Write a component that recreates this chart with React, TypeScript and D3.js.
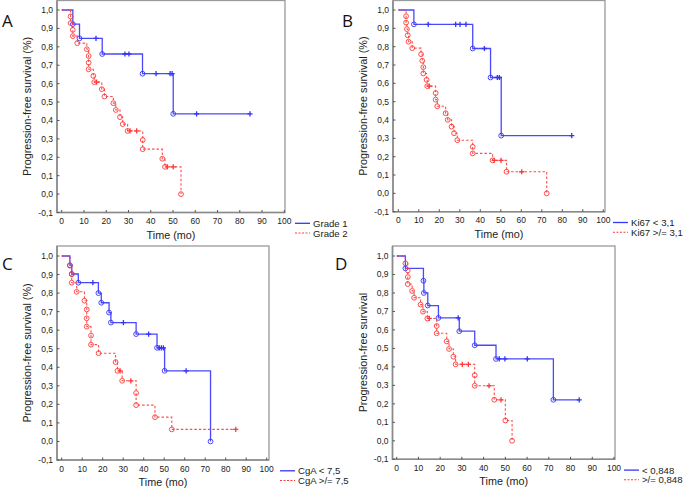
import React, { useEffect, useRef } from 'react';
import * as d3 from 'd3';

const xTicks = [0, 10, 20, 30, 40, 50, 60, 70, 80, 90, 100];
const yTicks = [-0.1, 0, 0.1, 0.2, 0.3, 0.4, 0.5, 0.6, 0.7, 0.8, 0.9, 1.0];

// A: grade
const gradeOneTimes = [5, 8, 18.2, 36.3, 50.1];
const gradeOneSurv = [0.923, 0.846, 0.761, 0.654, 0.436];
const gradeOneCensored = [15.4, 28.4, 30.2, 42.4, 48.7, 49.6, 60.6, 84.6];
const gradeTwoTimes = [4, 4, 5, 5, 7, 11.3, 12.1, 12.1, 12.1, 14.2, 14.6, 18, 19.2, 23.2, 24.3, 26.2, 27.4, 29.6, 36.4, 36.4, 45.2, 46.4, 53.6];
const gradeTwoSurv = [0.965, 0.929, 0.892, 0.858, 0.82, 0.787, 0.75, 0.714, 0.678, 0.642, 0.608, 0.57, 0.53, 0.494, 0.457, 0.418, 0.38, 0.343, 0.294, 0.244, 0.192, 0.148, 0];
const gradeTwoCensored = [15.7, 30.7, 33.7, 47.5, 50.1];

// B: Ki67
const kiLowTimes = [7.6, 36.3, 45, 50.2];
const kiLowSurv = [0.922, 0.79, 0.632, 0.315];
const kiLowCensored = [14.6, 28, 30.1, 33, 42, 48.3, 49.3, 84.6];
const kiHighTimes = [3.8, 3.8, 4.2, 4.6, 5, 6.8, 11.1, 11.7, 12.2, 12.2, 13.8, 14.1, 18.2, 18.2, 19, 23.1, 24.1, 26, 27.2, 28.8, 36.3, 36.3, 46, 52.8, 72.4];
const kiHighSurv = [0.966, 0.931, 0.896, 0.862, 0.827, 0.792, 0.759, 0.723, 0.688, 0.654, 0.619, 0.585, 0.547, 0.511, 0.475, 0.437, 0.401, 0.364, 0.328, 0.29, 0.254, 0.218, 0.18, 0.118, 0];
const kiHighCensored = [15.1, 46.8, 50.1, 60.2];

// C: CgA
const cgaLowTimes = [4, 4.9, 8.1, 17.9, 19.3, 23.1, 24, 36.3, 46.5, 50.2, 72.6];
const cgaLowSurv = [0.95, 0.903, 0.856, 0.8, 0.748, 0.695, 0.641, 0.579, 0.505, 0.381, 0];
const cgaLowCensored = [15.2, 30.1, 42.4, 47.6, 48.6, 49.6, 60.7];
const cgaHighTimes = [4, 4.9, 4.9, 7.3, 11.1, 12.2, 12.2, 12.2, 14.3, 14.3, 18, 26.3, 27.2, 29.5, 36.3, 36.3, 45.5, 53.7];
const cgaHighSurv = [0.948, 0.902, 0.856, 0.807, 0.759, 0.712, 0.664, 0.619, 0.571, 0.522, 0.476, 0.428, 0.381, 0.327, 0.261, 0.196, 0.131, 0.065];
const cgaHighCensored = [28.5, 33.7, 84.9];

// D: cut-off 0,848
const cutLowTimes = [4, 12.3, 12.5, 14.3, 19.2, 28.8, 35.9, 45.7, 72.1];
const cutLowSurv = [0.933, 0.866, 0.8, 0.732, 0.665, 0.593, 0.517, 0.443, 0.222];
const cutLowCensored = [28.3, 47.2, 49.8, 60.1, 84];
const cutHighTimes = [4, 5.1, 5.1, 5.1, 7.1, 8, 11, 12.1, 14.1, 18.4, 18.4, 23, 24.1, 26.1, 27.1, 35.9, 35.9, 44.9, 50, 53.1];
const cutHighSurv = [0.96, 0.922, 0.886, 0.848, 0.811, 0.774, 0.737, 0.699, 0.662, 0.621, 0.582, 0.538, 0.497, 0.455, 0.414, 0.355, 0.298, 0.222, 0.11, 0];
const cutHighCensored = [15, 30.2, 33, 42.5, 48];

const BLUE = '#3535f8';
const RED = '#ff3a3a';

const panels = [
  {
    letter: 'A', letterX: 2, letterY: 27,
    left: 57, right: 285, top: 0.5, bottom: 212.5, x0: 61.7, x100: 284.3, yTop: 10,
    yTitle: 'Progression-free survival (%)', legendX: 295,
    labels: ['Grade 1', 'Grade 2'],
    blue: [gradeOneTimes, gradeOneSurv, gradeOneCensored],
    red: [gradeTwoTimes, gradeTwoSurv, gradeTwoCensored],
  },
  {
    letter: 'B', letterX: 342, letterY: 27,
    left: 393, right: 605, top: 0.5, bottom: 211.7, x0: 398.3, x100: 603.3, yTop: 10,
    yTitle: 'Progression-free survival (%)', legendX: 613,
    labels: ['Ki67 < 3,1', 'Ki67 >/= 3,1'],
    blue: [kiLowTimes, kiLowSurv, kiLowCensored],
    red: [kiHighTimes, kiHighSurv, kiHighCensored],
  },
  {
    letter: 'C', letterX: 2, letterY: 270,
    left: 57, right: 269, top: 246, bottom: 460, x0: 61.7, x100: 266.7, yTop: 256,
    yTitle: 'Progression-free survival (%)', legendX: 280,
    labels: ['CgA < 7,5', 'CgA >/= 7,5'],
    blue: [cgaLowTimes, cgaLowSurv, cgaLowCensored],
    red: [cgaHighTimes, cgaHighSurv, cgaHighCensored],
  },
  {
    letter: 'D', letterX: 335, letterY: 270,
    left: 392.5, right: 615, top: 246, bottom: 459.3, x0: 396.7, x100: 614, yTop: 256,
    yTitle: 'Progression-free survival', legendX: 624,
    labels: ['< 0,848', '>/= 0,848'],
    blue: [cutLowTimes, cutLowSurv, cutLowCensored],
    red: [cutHighTimes, cutHighSurv, cutHighCensored],
  },
];

function survAt(times, surv, t) {
  let s = 1;
  times.forEach((tt, i) => { if (tt <= t) s = surv[i]; });
  return s;
}

function stepPoints(times, surv, censored) {
  const pts = [[0, 1]];
  let prev = 1;
  times.forEach((t, i) => {
    pts.push([t, prev]);
    pts.push([t, surv[i]]);
    prev = surv[i];
  });
  const lastEvent = times[times.length - 1];
  const lastT = Math.max(lastEvent, ...censored);
  if (lastT > lastEvent) pts.push([lastT, prev]);
  return pts;
}

const App = () => {
  const ref = useRef(null);

  useEffect(() => {
    const svg = d3.select(ref.current);
    svg.selectAll('*').remove();
    const font = 'Liberation Sans, Arial, sans-serif';
    const fmt = (v) => d3.format('.1f')(v).replace('.', ',').replace('−', '-');

    panels.forEach((p) => {
      const g = svg.append('g');
      const x = d3.scaleLinear().domain([0, 100]).range([p.x0, p.x100]);
      const y = d3.scaleLinear().domain([-0.1, 1.0]).range([p.bottom, p.yTop]);

      // frame
      g.append('rect')
        .attr('x', p.left).attr('y', p.top)
        .attr('width', p.right - p.left).attr('height', p.bottom - p.top)
        .attr('fill', 'white').attr('stroke', '#9a9a9a').attr('stroke-width', 1.3);
      g.append('path')
        .attr('d', `M${p.left},${p.top}V${p.bottom}H${p.right}`)
        .attr('fill', 'none').attr('stroke', '#8a8a8a').attr('stroke-width', 1.6);

      // ticks
      xTicks.forEach((t) => {
        g.append('line')
          .attr('x1', x(t)).attr('x2', x(t))
          .attr('y1', p.bottom).attr('y2', p.bottom - 2.5)
          .attr('stroke', '#555').attr('stroke-width', 1);
        g.append('text')
          .attr('x', x(t)).attr('y', p.bottom + 11.5)
          .attr('text-anchor', 'middle')
          .style('font-family', font).style('font-size', '8.5px').style('fill', '#222')
          .text(t);
      });
      yTicks.forEach((t) => {
        g.append('line')
          .attr('x1', p.left).attr('x2', p.left + 2.5)
          .attr('y1', y(t)).attr('y2', y(t))
          .attr('stroke', '#555').attr('stroke-width', 1);
        g.append('text')
          .attr('x', p.left - 4).attr('y', y(t) + 3)
          .attr('text-anchor', 'end')
          .style('font-family', font).style('font-size', '8.5px').style('fill', '#222')
          .text(fmt(t));
      });

      // titles
      g.append('text')
        .attr('x', (p.left + p.right) / 2).attr('y', p.bottom + 26)
        .attr('text-anchor', 'middle')
        .style('font-family', font).style('font-size', '10.8px').style('fill', '#222')
        .text('Time (mo)');
      const cy = (p.top + p.bottom) / 2;
      g.append('text')
        .attr('transform', `translate(${p.left - 26},${cy}) rotate(-90)`)
        .attr('text-anchor', 'middle')
        .style('font-family', font).style('font-size', '10.8px').style('fill', '#222')
        .text(p.yTitle);
      g.append('text')
        .attr('x', p.letterX).attr('y', p.letterY)
        .style('font-family', 'Open Sans, sans-serif').style('font-size', '17px').style('fill', '#111')
        .text(p.letter);

      const line = d3.line().x((d) => x(d[0])).y((d) => y(d[1]));

      const drawSeries = (series, color, dash, width) => {
        const [times, surv, censored] = series;
        g.append('path')
          .attr('d', line(stepPoints(times, surv, censored)))
          .attr('fill', 'none').attr('stroke', color)
          .attr('stroke-width', width)
          .attr('stroke-dasharray', dash)
          .attr('opacity', 0.9);
        times.forEach((t, i) => {
          g.append('circle')
            .attr('cx', x(t)).attr('cy', y(surv[i])).attr('r', 2.4)
            .attr('fill', 'none').attr('stroke', color).attr('stroke-width', 0.9);
        });
        censored.forEach((t) => {
          const cx = x(t);
          const cyy = y(survAt(times, surv, t));
          g.append('path')
            .attr('d', `M${cx - 2.6},${cyy}H${cx + 2.6}M${cx},${cyy - 2.6}V${cyy + 2.6}`)
            .attr('stroke', color).attr('stroke-width', 1.3);
        });
      };

      drawSeries(p.blue, BLUE, null, 1.3);
      drawSeries(p.red, RED, '2.5,2', 1.1);

      // legend
      const ly1 = p.bottom + 10.8;
      const ly2 = p.bottom + 20.5;
      g.append('line')
        .attr('x1', p.legendX).attr('x2', p.legendX + 15)
        .attr('y1', ly1).attr('y2', ly1)
        .attr('stroke', BLUE).attr('stroke-width', 1.3);
      g.append('line')
        .attr('x1', p.legendX).attr('x2', p.legendX + 15)
        .attr('y1', ly2).attr('y2', ly2)
        .attr('stroke', RED).attr('stroke-width', 1.1).attr('stroke-dasharray', '2,1.5');
      p.labels.forEach((lab, i) => {
        g.append('text')
          .attr('x', p.legendX + 18).attr('y', (i === 0 ? ly1 : ly2) + 3.5)
          .style('font-family', font).style('font-size', '9.6px').style('fill', '#222')
          .text(lab);
      });
    });
  }, []);

  return (
    <svg
      ref={ref}
      width={685}
      height={489}
      style={{ position: 'absolute', left: 0, top: 0, background: 'white' }}
    />
  );
};

export default App;
